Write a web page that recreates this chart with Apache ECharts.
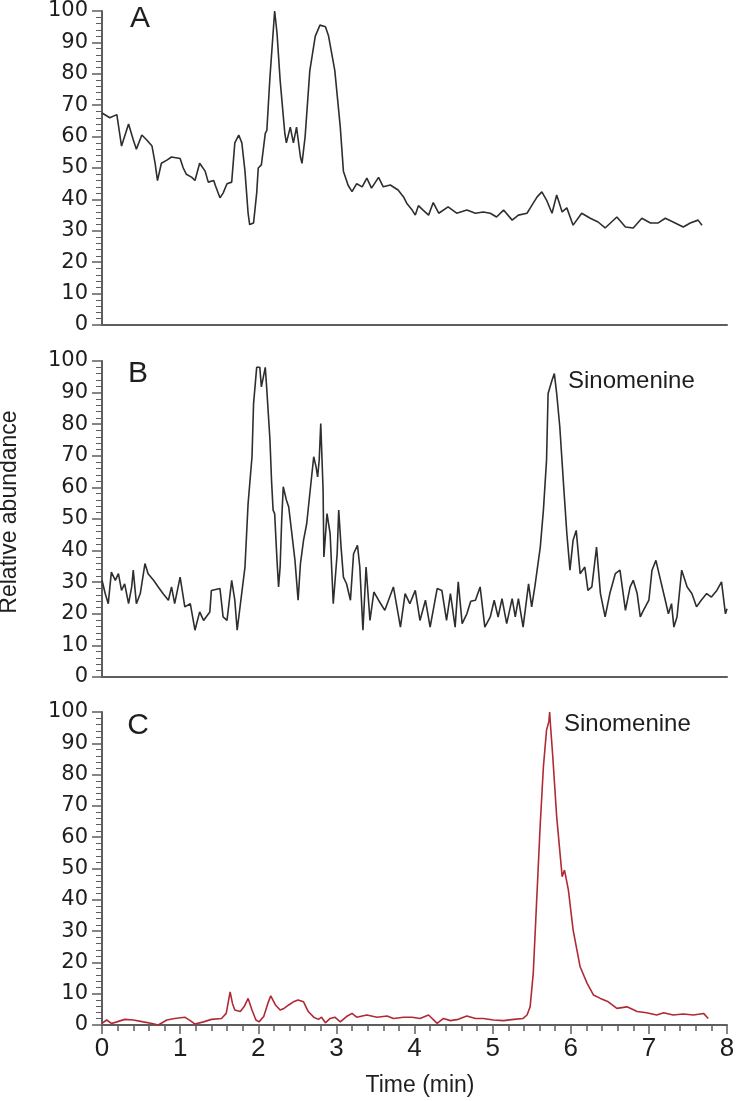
<!DOCTYPE html>
<html>
<head>
<meta charset="utf-8">
<script src="https://cdn.jsdelivr.net/npm/echarts@6/dist/echarts.min.js"></script>
<style>
html,body{margin:0;padding:0;background:#fff;}
#chart{width:740px;height:1101px;}
</style>
</head>
<body>
<div id="chart"></div>
<script>
// ---------- DATA ----------
const panelLabels = ['A', 'B', 'C'];
const peakName = 'Sinomenine';
const xTicks = [0, 1, 2, 3, 4, 5, 6, 7, 8];
const yTicks = [0, 10, 20, 30, 40, 50, 60, 70, 80, 90, 100];

const timeA = [0.00,0.10,0.19,0.25,0.34,0.40,0.44,0.51,0.57,0.64,0.68,0.71,0.76,0.83,0.89,1.00,1.04,1.08,1.15,1.19,1.25,1.32,1.36,1.43,1.45,1.51,1.55,1.60,1.66,1.70,1.75,1.79,1.83,1.87,1.89,1.94,1.98,2.00,2.04,2.09,2.11,2.15,2.19,2.21,2.24,2.28,2.34,2.36,2.41,2.45,2.49,2.54,2.56,2.60,2.66,2.73,2.79,2.86,2.90,2.98,3.05,3.09,3.15,3.20,3.26,3.33,3.39,3.45,3.54,3.60,3.69,3.79,3.86,3.90,3.97,4.01,4.05,4.11,4.18,4.24,4.31,4.43,4.54,4.67,4.78,4.88,4.97,5.05,5.14,5.25,5.33,5.44,5.50,5.57,5.63,5.69,5.76,5.82,5.89,5.95,6.03,6.14,6.25,6.35,6.44,6.59,6.70,6.80,6.91,7.02,7.12,7.21,7.31,7.44,7.53,7.63,7.68];
const valueA = [67.5,66,67,57,64,59,56,60.5,59,57,51.5,46,51.5,52.5,53.5,53,50,48,47,46,51.5,49,45.5,46,44.5,40.5,42,45,45.5,58,60.5,58,49,35.6,32,32.5,42,50,51,61,62,79,93,100,93,78,61,58,63,58,63,53.5,51.5,60,81,92,95.5,95,92,81,63,49,44.5,42.5,45,44,46.8,43.6,47,44,44.6,43,40.8,38.8,36.6,35,38,36.6,35,39,35.6,37.6,35.6,36.6,35.6,36,35.6,34.4,36.6,33.4,35,35.6,38,40.8,42.4,39.8,35.6,41.4,36,37.3,31.8,35.6,34,32.8,30.9,34.4,31.2,30.9,34,32.5,32.5,34,32.8,31.2,32.5,33.4,31.8];

const timeB = [0.00,0.04,0.08,0.12,0.17,0.21,0.25,0.29,0.34,0.38,0.40,0.44,0.49,0.55,0.59,0.66,0.72,0.78,0.85,0.89,0.93,1.00,1.06,1.13,1.19,1.25,1.30,1.38,1.40,1.51,1.55,1.60,1.66,1.70,1.73,1.78,1.83,1.87,1.92,1.94,1.98,2.02,2.04,2.09,2.11,2.15,2.17,2.19,2.21,2.24,2.26,2.28,2.30,2.32,2.36,2.39,2.43,2.47,2.51,2.54,2.58,2.62,2.66,2.71,2.74,2.76,2.78,2.80,2.83,2.84,2.88,2.92,2.96,3.01,3.03,3.06,3.09,3.13,3.18,3.22,3.27,3.30,3.34,3.38,3.43,3.48,3.54,3.62,3.73,3.82,3.88,3.94,4.01,4.07,4.14,4.20,4.29,4.35,4.41,4.46,4.52,4.56,4.61,4.67,4.72,4.78,4.84,4.90,4.97,5.02,5.07,5.12,5.18,5.25,5.29,5.33,5.39,5.46,5.50,5.54,5.61,5.65,5.69,5.71,5.76,5.79,5.82,5.86,5.91,5.95,5.99,6.03,6.07,6.12,6.18,6.22,6.27,6.33,6.38,6.44,6.50,6.57,6.63,6.70,6.76,6.80,6.85,6.89,6.93,7.00,7.04,7.09,7.14,7.21,7.25,7.29,7.32,7.36,7.42,7.49,7.55,7.61,7.67,7.74,7.80,7.87,7.93,7.98,8.00];
const valueB = [30.6,26.5,23.2,33.2,30.6,32.7,27.4,29.5,23.2,28.5,33.8,23.2,26.4,35.9,32.7,30.6,28.5,26.4,24.3,28.5,23.2,31.6,22.2,23.2,14.8,20.6,17.9,20.6,27.4,28,19,17.9,30.6,24.3,14.8,24.8,34.8,54.9,69.7,86.5,98,98,91.8,98,90.7,74.9,62.2,52.8,51.7,36.9,28.5,34.8,49.6,60.2,56,53.8,45.4,36.9,24.3,35.9,43.3,48.5,58,69.7,66.5,63.3,68.6,80.2,59.1,38,51.7,45.4,23.2,39,52.8,41.1,31.6,29.5,24.3,39,41.7,34.8,14.8,34.8,17.9,26.9,24.3,21.1,28.5,15.8,26.4,23.2,27.4,17.9,24.3,15.8,28,27.4,17.9,26.4,15.8,30.1,16.9,20,24,24.3,28.5,15.8,19,24.3,19,24.8,16.9,24.8,19,24.8,15.8,29.5,22.2,28.5,41.1,52.8,68.6,89.7,93.9,96,89.7,79.1,60.1,45.4,33.8,43.3,46.4,32.7,34.8,27.4,28.5,41.1,26.4,19,26.4,32.7,33.8,21.1,28.5,30.6,26.4,19,21.1,24.3,33.8,36.9,31.6,24.3,20,23.2,15.8,19,33.8,28.5,26.4,22.2,24.3,26.4,25.3,27.4,30.1,20,21.6];

const timeC = [0.00,0.06,0.12,0.19,0.29,0.40,0.53,0.64,0.72,0.83,0.93,1.06,1.13,1.19,1.30,1.40,1.53,1.59,1.64,1.67,1.70,1.77,1.82,1.87,1.92,1.97,2.01,2.07,2.13,2.16,2.22,2.28,2.33,2.39,2.45,2.51,2.58,2.64,2.71,2.77,2.81,2.86,2.92,2.98,3.05,3.13,3.20,3.26,3.39,3.52,3.65,3.73,3.86,3.97,4.07,4.18,4.29,4.37,4.46,4.56,4.67,4.78,4.88,5.01,5.14,5.27,5.39,5.44,5.48,5.52,5.57,5.61,5.65,5.69,5.72,5.73,5.74,5.77,5.82,5.89,5.92,5.97,6.03,6.12,6.21,6.29,6.38,6.48,6.59,6.72,6.85,6.97,7.10,7.19,7.31,7.44,7.57,7.70,7.76];
const valueC = [0.5,1.6,0.5,1,1.8,1.6,1,0.5,0,1.6,2.1,2.5,1.4,0.3,1,1.8,2.1,3.7,10.6,6.9,4.8,4.3,5.9,8.5,4.8,1.6,1,2.7,7.4,9.3,6.4,4.8,5.3,6.4,7.4,8,7.4,4.3,2.5,1.8,2.5,0.7,2.1,2.5,1,2.7,3.7,2.5,3.2,2.5,2.9,2.1,2.5,2.5,2.1,3.2,0.5,2.1,1.4,1.8,2.9,2.1,2.1,1.6,1.4,1.8,2.1,3.2,5.8,16.5,43.1,64.4,82.5,94.2,97,100,96,85.7,66.5,47.4,49.5,43.1,30.4,18.6,13.3,9.6,8.5,7.4,5.3,5.8,4.3,3.9,3.2,3.9,3.2,3.5,3.2,3.7,2.1];

const yAxisTitle = 'Relative abundance';
const xAxisTitle = 'Time (min)';

// ---------- CHART ----------
const pair = (t, v) => t.map((x, i) => [x, v[i]]);
const axisColor = '#5e5e5e';
const textColor = '#1e1e1e';
const grids = [
  {left: 102, top: 11, width: 625, height: 314},
  {left: 102, top: 361, width: 625, height: 316},
  {left: 102, top: 712, width: 625, height: 313}
];

const xAxes = grids.map((g, i) => ({
  type: 'value', gridIndex: i, min: xTicks[0], max: xTicks[xTicks.length - 1], interval: 1,
  axisLine: {show: true, onZero: false, lineStyle: {color: axisColor, width: 2}},
  axisTick: {show: i === 2, inside: false, length: 9, lineStyle: {color: axisColor, width: 1.5}},
  minorTick: {show: i === 2, splitNumber: 5, length: 6, lineStyle: {color: axisColor, width: 1.5}},
  axisLabel: {show: i === 2, margin: 11, fontFamily: 'Liberation Sans', fontSize: 26, color: textColor},
  splitLine: {show: false}
}));

const yAxes = grids.map((g, i) => ({
  type: 'value', gridIndex: i, min: yTicks[0], max: yTicks[yTicks.length - 1], interval: 10,
  axisLine: {show: true, onZero: false, lineStyle: {color: axisColor, width: 2}},
  axisTick: {show: true, inside: false, length: 10, lineStyle: {color: axisColor, width: 1.5}},
  minorTick: {show: true, splitNumber: 5, length: 6, lineStyle: {color: axisColor, width: 1}},
  axisLabel: {show: true, margin: 14, fontFamily: 'DejaVu Sans', fontSize: 21, color: textColor},
  splitLine: {show: false}
}));

const seriesList = [
  {data: pair(timeA, valueA), color: '#2e2e2e'},
  {data: pair(timeB, valueB), color: '#2e2e2e'},
  {data: pair(timeC, valueC), color: '#b02a36'}
].map((s, i) => ({
  type: 'line', xAxisIndex: i, yAxisIndex: i, data: s.data,
  showSymbol: false, symbol: 'none', smooth: false, animation: false,
  lineStyle: {color: s.color, width: 1.6}, clip: true
}));

const labelFont = 'Liberation Sans';
const graphics = [
  {type: 'text', x: 140, y: 19, style: {text: panelLabels[0], fontFamily: labelFont, fontSize: 30, fill: textColor, textAlign: 'center', textVerticalAlign: 'middle'}},
  {type: 'text', x: 138, y: 374, style: {text: panelLabels[1], fontFamily: labelFont, fontSize: 30, fill: textColor, textAlign: 'center', textVerticalAlign: 'middle'}},
  {type: 'text', x: 138, y: 726, style: {text: panelLabels[2], fontFamily: labelFont, fontSize: 30, fill: textColor, textAlign: 'center', textVerticalAlign: 'middle'}},
  {type: 'text', x: 568, y: 381, style: {text: peakName, fontFamily: labelFont, fontSize: 24, fill: textColor, textAlign: 'left', textVerticalAlign: 'middle'}},
  {type: 'text', x: 564, y: 724, style: {text: peakName, fontFamily: labelFont, fontSize: 24, fill: textColor, textAlign: 'left', textVerticalAlign: 'middle'}},
  {type: 'text', x: 420, y: 1086, style: {text: xAxisTitle, fontFamily: labelFont, fontSize: 23, fill: textColor, textAlign: 'center', textVerticalAlign: 'middle'}},
  {type: 'text', x: 10, y: 512, rotation: Math.PI / 2, style: {text: yAxisTitle, fontFamily: labelFont, fontSize: 23, fill: textColor, textAlign: 'center', textVerticalAlign: 'middle'}}
];

const chart = echarts.init(document.getElementById('chart'), null, {renderer: 'canvas'});
chart.setOption({
  animation: false,
  backgroundColor: '#ffffff',
  grid: grids,
  xAxis: xAxes,
  yAxis: yAxes,
  series: seriesList,
  graphic: graphics
});
</script>
</body>
</html>
